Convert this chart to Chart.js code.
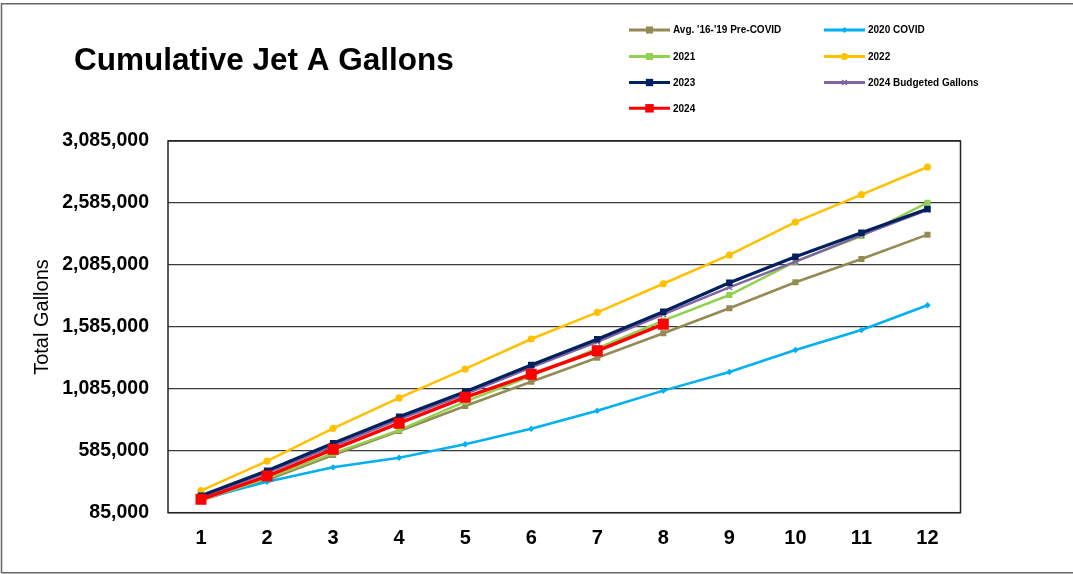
<!DOCTYPE html>
<html>
<head>
<meta charset="utf-8">
<script src="https://cdn.jsdelivr.net/npm/chart.js@4/dist/chart.umd.min.js"></script>
<style>
html,body{margin:0;padding:0;background:#fff;}
#wrap{position:relative;width:1073px;height:574px;}
canvas{display:block;}
</style>
</head>
<body>
<div id="wrap"><canvas id="c" width="1073" height="574"></canvas></div>
<script>
// ---- data ----
const months = ['1','2','3','4','5','6','7','8','9','10','11','12'];
const yTicks = [85000, 585000, 1085000, 1585000, 2085000, 2585000, 3085000];
const chartTitle = 'Cumulative Jet A Gallons';
const yAxisTitle = 'Total Gallons';
const seriesNames = ["Avg. '16-'19 Pre-COVID", '2020 COVID', '2021', '2022', '2023', '2024 Budgeted Gallons', '2024'];
const avgPreCovid = [185000, 349000, 551000, 744000, 946000, 1142000, 1336000, 1533000, 1735000, 1945000, 2133000, 2329000];
const covid2020   = [195000, 335000, 451000, 529000, 637000, 763000, 908000, 1070000, 1221000, 1398000, 1560000, 1759000];
const y2021       = [187000, 363000, 564000, 752000, 981000, 1188000, 1412000, 1635000, 1842000, 2111000, 2318000, 2587000];
const y2022       = [263000, 502000, 766000, 1011000, 1245000, 1487000, 1702000, 1933000, 2165000, 2431000, 2652000, 2875000];
const y2023       = [222000, 424000, 645000, 860000, 1062000, 1277000, 1485000, 1707000, 1941000, 2151000, 2345000, 2536000];
const budget2024  = [212000, 408000, 623000, 839000, 1043000, 1259000, 1465000, 1686000, 1904000, 2111000, 2326000, 2530000];
const y2024       = [193000, 381000, 597000, 807000, 1016000, 1202000, 1392000, 1606000];

// ---- styles ----
const FONT = '"Liberation Sans", Arial, Helvetica, sans-serif';
const styles = [
  {color:'#948A54', point:'rect',    r:4.3, lw:2.5, order:6, legR:5},
  {color:'#00B0F0', point:'rectRot', r:3.2, lw:2.5, order:5, legR:3},
  {color:'#92D050', point:'rect',    r:4.3, lw:2.5, order:4, legR:5},
  {color:'#FFC000', point:'circle',  r:3.6, lw:2.5, order:7, legR:3.6},
  {color:'#002060', point:'rect',    r:4.6, lw:3.2, order:2, legR:5.2},
  {color:'#8064A2', point:'crossRot',r:3.8, lw:2.5, order:3, legR:3.4},
  {color:'#FF0000', point:'rect',    r:7.8, lw:3.5, order:1, legR:6}
];
const seriesData = [avgPreCovid, covid2020, y2021, y2022, y2023, budget2024, y2024];

const datasets = seriesData.map((d,i)=>({
  label: seriesNames[i],
  data: d,
  borderColor: styles[i].color,
  backgroundColor: styles[i].color,
  pointBackgroundColor: styles[i].color,
  pointBorderColor: styles[i].color,
  pointBorderWidth: styles[i].point==='crossRot' ? 1.5 : 0,
  pointStyle: styles[i].point,
  pointRadius: styles[i].r,
  pointHoverRadius: styles[i].r,
  borderWidth: styles[i].lw,
  tension: 0,
  fill: false,
  order: styles[i].order
}));

const decor = {
  id:'decor',
  beforeDraw(chart){
    const ctx = chart.ctx;
    ctx.save();
    ctx.fillStyle = '#fff';
    ctx.fillRect(0,0,chart.width,chart.height);
    // outer border
    ctx.strokeStyle = '#666';
    ctx.lineWidth = 1.5;
    ctx.beginPath();
    ctx.moveTo(1.5, 573);
    ctx.lineTo(1.5, 3.8);
    ctx.lineTo(1080, 3.8);
    ctx.moveTo(1.5, 572.8);
    ctx.lineTo(1080, 572.8);
    ctx.stroke();
    ctx.restore();
  },
  afterDatasetsDraw(chart){
    const ctx = chart.ctx;
    const a = chart.chartArea;
    ctx.save();
    // plot border
    ctx.strokeStyle = '#222';
    ctx.lineWidth = 1.5;
    ctx.strokeRect(a.left, a.top, a.right - a.left, a.bottom - a.top);
    ctx.restore();
  },
  afterDraw(chart){
    const ctx = chart.ctx;
    ctx.save();
    // title
    ctx.fillStyle = '#000';
    ctx.font = 'bold 31.5px ' + FONT;
    ctx.textBaseline = 'alphabetic';
    ctx.textAlign = 'left';
    ctx.fillText(chartTitle, 74, 70);
    // y title
    ctx.translate(42, 317);
    ctx.rotate(-Math.PI/2);
    ctx.font = '20px ' + FONT;
    ctx.textAlign = 'center';
    ctx.textBaseline = 'middle';
    ctx.fillText(yAxisTitle, 0, 0);
    ctx.restore();
    // legend
    ctx.save();
    const colX = [629, 824];
    const rowY = [30, 56.5, 82.5, 108.3];
    ctx.font = 'bold 10px ' + FONT;
    ctx.textBaseline = 'middle';
    ctx.textAlign = 'left';
    seriesNames.forEach((name,i)=>{
      const x = colX[i%2], y = rowY[Math.floor(i/2)];
      const s = styles[i];
      ctx.strokeStyle = s.color;
      ctx.lineWidth = 3;
      ctx.beginPath();
      ctx.moveTo(x, y); ctx.lineTo(x+41, y);
      ctx.stroke();
      ctx.fillStyle = s.color;
      ctx.strokeStyle = s.color;
      const bw = s.point==='crossRot' ? 1.5 : 0;
      ctx.lineWidth = s.point==='crossRot' ? 1.5 : 1;
      Chart.helpers.drawPoint(ctx, {pointStyle:s.point, radius:s.legR, rotation:0, borderWidth: bw}, x+20.5, y);
      ctx.fillStyle = '#000';
      ctx.fillText(name, x+44, y+0.5);
    });
    ctx.restore();
  }
};

new Chart(document.getElementById('c'), {
  type:'line',
  data:{labels: months, datasets},
  options:{
    responsive:false,
    animation:false,
    devicePixelRatio:1,
    layout:{padding:{left:0, top:141, right:112.5, bottom:0}},
    plugins:{legend:{display:false}, title:{display:false}, tooltip:{enabled:false}},
    scales:{
      x:{
        offset:true,
        afterFit(s){ s.height = 61.3; },
        grid:{display:false, drawTicks:false},
        border:{display:false},
        ticks:{color:'#000', font:{family:FONT, size:20, weight:'bold'}, padding:14, maxRotation:0}
      },
      y:{
        min:85000, max:3085000,
        afterFit(s){ s.width = 168; },
        afterBuildTicks(s){ s.ticks = yTicks.map(v=>({value:v})); },
        grid:{color:'#3a3a3a', lineWidth:1.2, drawTicks:false},
        border:{display:false},
        ticks:{color:'#000', font:{family:FONT, size:19.5, weight:'bold'}, padding:19,
          callback:(v)=>Number(v).toLocaleString('en-US')}
      }
    }
  },
  plugins:[decor]
});
</script>
</body>
</html>
